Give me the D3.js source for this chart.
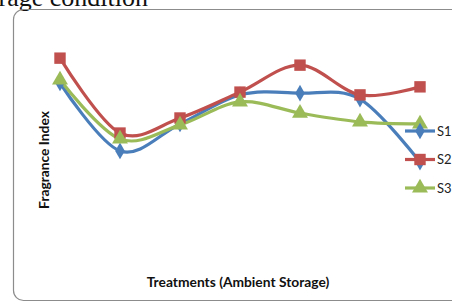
<!DOCTYPE html>
<html>
<head>
<meta charset="utf-8">
<script src="https://cdn.jsdelivr.net/npm/d3@7"></script>
<style>
  html, body { margin: 0; padding: 0; background: #fff; overflow: hidden; }
  svg { display: block; }
</style>
</head>
<body>
<svg id="chart" width="452" height="304"></svg>
<script>
// treatments along the x axis (labels are not shown in the chart)
const treatments = ['T1', 'T2', 'T3', 'T4', 'T5', 'T6', 'T7'];
const seriesNames = ['S1', 'S2', 'S3'];
const s1 = [7.0, 5.06, 5.83, 6.66, 6.71, 6.54, 4.74];
const s2 = [7.71, 5.57, 6.0, 6.74, 7.51, 6.66, 6.89];
const s3 = [7.09, 5.4, 5.8, 6.46, 6.14, 5.89, 5.83];

const colors = { S1: '#4A7EBB', S2: '#C0504D', S3: '#9BBB59' };
const shapes = { S1: d3.symbolDiamond, S2: d3.symbolSquare, S3: d3.symbolTriangle };
const sizes = { S1: 80, S2: 130, S3: 110 };

const svg = d3.select('#chart');
const series = [
    { name: 'S1', values: s1 },
    { name: 'S2', values: s2 },
    { name: 'S3', values: s3 }
];

// cropped figure caption above the frame
svg.append('text')
    .attr('x', 148).attr('y', 6)
    .attr('text-anchor', 'end')
    .attr('font-family', '"Liberation Serif", "DejaVu Serif", serif')
    .attr('font-size', 26)
    .attr('fill', '#111')
    .text('Storage condition');

// chart frame (rounded, runs past the right edge)
svg.append('rect')
    .attr('x', 13.5).attr('y', 9.5)
    .attr('width', 460).attr('height', 291)
    .attr('rx', 10).attr('ry', 10)
    .attr('fill', 'none')
    .attr('stroke', '#8c8c8c')
    .attr('stroke-width', 1.2);

const x = d3.scalePoint().domain(treatments).range([60, 420]);
const y = d3.scaleLinear().domain([3, 9]).range([223, 13]);

const line = d3.line()
    .x((d, i) => x(treatments[i]))
    .y(d => y(d))
    .curve(d3.curveCardinal.tension(0));

const g = svg.append('g');
for (const s of series) {
    g.append('path')
        .attr('d', line(s.values))
        .attr('fill', 'none')
        .attr('stroke', colors[s.name])
        .attr('stroke-width', 3.2)
        .attr('stroke-linejoin', 'round');
}
for (const s of series) {
    g.selectAll(null).data(s.values).join('path')
        .attr('transform', (d, i) => `translate(${x(treatments[i])},${y(d)})`)
        .attr('d', d3.symbol().type(shapes[s.name]).size(sizes[s.name]))
        .attr('fill', colors[s.name]);
}

// legend
const legend = svg.append('g').attr('transform', 'translate(405,131)');
seriesNames.forEach((n, i) => {
    const row = legend.append('g').attr('transform', `translate(0,${i * 28.5})`);
    row.append('line').attr('x1', 0).attr('x2', 30).attr('y1', 0).attr('y2', 0)
        .attr('stroke', colors[n]).attr('stroke-width', 3.2);
    row.append('path')
        .attr('transform', 'translate(15,0)')
        .attr('d', d3.symbol().type(shapes[n]).size(sizes[n]))
        .attr('fill', colors[n]);
    row.append('text').attr('x', 32).attr('y', 4.5)
        .attr('font-family', 'Lato, "Open Sans", sans-serif')
        .attr('font-size', 13)
        .attr('fill', '#222')
        .text(n);
});

// axis titles
svg.append('text')
    .attr('transform', 'translate(49,160) rotate(-90)')
    .attr('text-anchor', 'middle')
    .attr('font-family', 'Lato, "Open Sans", sans-serif')
    .attr('font-weight', 'bold')
    .attr('font-size', 13.8)
    .attr('fill', '#111')
    .text('Fragrance Index');

svg.append('text')
    .attr('x', 238).attr('y', 287)
    .attr('text-anchor', 'middle')
    .attr('font-family', 'Lato, "Open Sans", sans-serif')
    .attr('font-weight', 'bold')
    .attr('font-size', 13.8)
    .attr('fill', '#111')
    .text('Treatments (Ambient Storage)');
</script>
</body>
</html>
